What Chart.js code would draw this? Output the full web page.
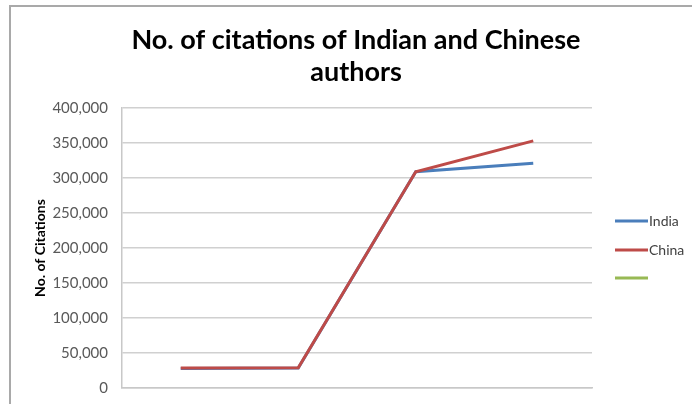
<!DOCTYPE html>
<html>
<head>
<meta charset="utf-8">
<script src="https://cdn.jsdelivr.net/npm/chart.js@4.4.1/dist/chart.umd.min.js"></script>
<style>
  html, body { margin: 0; padding: 0; background: #ffffff; }
  #wrap { position: relative; width: 692px; height: 404px; }
</style>
</head>
<body>
<div id="wrap"><canvas id="c" width="692" height="404"></canvas></div>
<script>
// ---- data ----
const categories = ['1', '2', '3', '4'];
const indiaValues = [28000, 28500, 309000, 321000];
const chinaValues = [28500, 29000, 309000, 353000];
const thirdValues = [];
const seriesNames = ['India', 'China', ''];
const yTicks = [0, 50000, 100000, 150000, 200000, 250000, 300000, 350000, 400000];
const titleLines = ['No. of citations of Indian and Chinese', 'authors'];
const yAxisTitle = 'No. of Citations';

const FONT = 'Lato, "Open Sans", "DejaVu Sans", sans-serif';

const framePlugin = {
  id: 'frame',
  beforeDraw(chart) {
    const ctx = chart.ctx;
    ctx.save();
    ctx.strokeStyle = '#a9a9a9';
    ctx.lineWidth = 2;
    ctx.beginPath();
    ctx.moveTo(10, 404);
    ctx.lineTo(10, 6);
    ctx.lineTo(692, 6);
    ctx.stroke();
    ctx.restore();
  }
};

const legendPlugin = {
  id: 'sideLegend',
  afterDraw(chart) {
    const ctx = chart.ctx;
    const ys = [221, 250, 278];
    ctx.save();
    chart.data.datasets.forEach((ds, i) => {
      const y = ys[i];
      ctx.strokeStyle = ds.borderColor;
      ctx.lineWidth = 3;
      ctx.beginPath();
      ctx.moveTo(615, y);
      ctx.lineTo(648, y);
      ctx.stroke();
      ctx.fillStyle = '#404040';
      ctx.font = '14px ' + FONT;
      ctx.textBaseline = 'middle';
      ctx.textAlign = 'left';
      ctx.fillText(ds.label, 649, y);
    });
    ctx.restore();
  }
};

new Chart(document.getElementById('c'), {
  type: 'line',
  data: {
    labels: categories,
    datasets: [
      { label: seriesNames[0], data: indiaValues, borderColor: '#4a7ebb', backgroundColor: '#4a7ebb', borderWidth: 3, pointRadius: 0, tension: 0, order: 2 },
      { label: seriesNames[1], data: chinaValues, borderColor: '#be4b48', backgroundColor: '#be4b48', borderWidth: 3, pointRadius: 0, tension: 0, order: 1 },
      { label: seriesNames[2], data: thirdValues, borderColor: '#98b954', backgroundColor: '#98b954', borderWidth: 3, pointRadius: 0, tension: 0, order: 0 }
    ]
  },
  options: {
    responsive: false,
    animation: false,
    devicePixelRatio: 1,
    layout: { padding: { left: 20, right: 0, top: 0, bottom: 16 } },
    plugins: {
      legend: { display: false },
      tooltip: { enabled: false },
      title: {
        display: true,
        text: titleLines,
        color: '#000000',
        font: { family: FONT, size: 27, weight: 'bold', lineHeight: 1.185 },
        padding: { top: 24, bottom: 20 }
      }
    },
    scales: {
      x: {
        offset: true,
        grid: { display: false, drawTicks: false },
        border: { display: true, color: '#c8c8c8', width: 1.5 },
        ticks: { display: false },
        afterFit(scale) { scale.height = 0; scale.paddingLeft = 0; scale.paddingRight = 0; }
      },
      y: {
        min: 0,
        max: 400000,
        afterBuildTicks(scale) { scale.ticks = yTicks.map(v => ({ value: v })); },
        afterFit(scale) { scale.width = 102; scale.paddingTop = 0; scale.paddingBottom = 0; },
        grid: { color: '#d0d0d0', lineWidth: 1.5, drawTicks: false },
        border: { display: true, color: '#c8c8c8', width: 1.5 },
        ticks: {
          color: '#595959',
          padding: 14,
          font: { family: FONT, size: 15 },
          callback: v => v.toLocaleString('en-US')
        },
        title: {
          display: true,
          text: yAxisTitle,
          color: '#000000',
          font: { family: FONT, size: 14, weight: 'bold' },
          padding: { top: 12, bottom: 0 }
        }
      },
      side: {
        position: 'right',
        display: true,
        grid: { display: false, drawTicks: false },
        border: { display: false },
        ticks: { display: false },
        afterFit(scale) { scale.width = 100; scale.paddingTop = 0; scale.paddingBottom = 0; }
      }
    }
  },
  plugins: [framePlugin, legendPlugin]
});
</script>
</body>
</html>
